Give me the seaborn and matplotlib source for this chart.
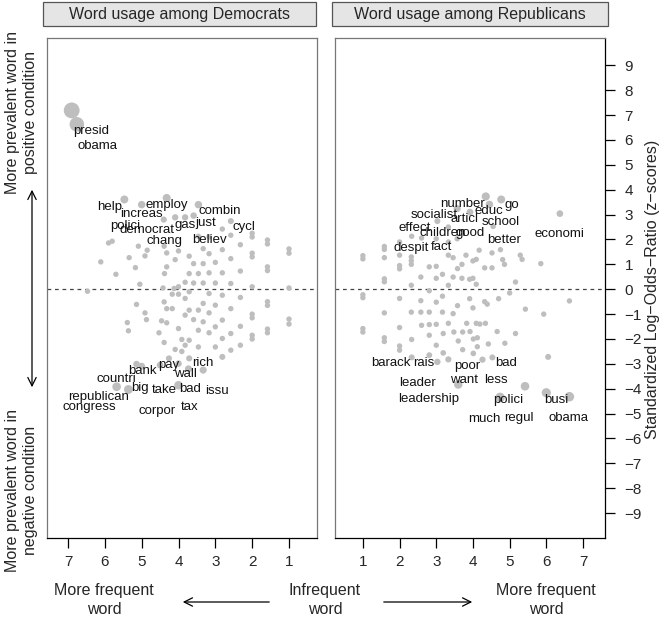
"""Word usage scatter: frequency (log2) vs standardized log-odds-ratio, two panels."""

import matplotlib
matplotlib.use("Agg")
import matplotlib.pyplot as plt
from matplotlib.patches import Rectangle
import numpy as np
import pandas as pd
import seaborn as sns

# ---- data ----
dem_freq = [6.90, 6.76,
            5.47, 5.00, 4.32, 3.46, 4.40, 4.09, 3.82, 3.59, 2.58, 2.81, 2.58, 2.00, 2.00, 1.585, 1.585, 1.00, 1.00,
            5.90, 5.80, 6.11, 5.70, 5.34, 5.09, 5.17, 4.91, 4.85, 5.05, 4.38, 4.32, 4.32, 4.39, 4.00, 4.09, 4.00,
            3.71, 3.71, 3.59, 3.46, 3.33, 3.33, 3.17, 3.17, 3.00, 3.00, 3.33, 3.59, 3.82, 3.46, 3.17, 2.81, 2.81,
            2.58, 2.58, 2.32, 2.32, 2.00, 2.00, 2.00, 1.585, 1.585, 1.00, 4.42, 4.12,
            1.00, 1.00, 1.585, 1.585, 1.585, 1.585, 2.00, 2.00, 2.00, 2.00, 2.32, 2.32, 2.32, 2.58, 2.58, 2.58,
            2.81, 2.81, 2.81, 2.81, 3.00, 3.00, 3.00, 3.17, 3.17, 3.17, 3.33, 3.33, 3.33, 3.46, 3.46, 3.46,
            3.59, 3.71, 3.71, 3.71, 3.82, 3.82, 3.82, 3.91, 4.00, 4.09, 3.91, 4.00, 4.17, 4.32, 4.39, 4.32,
            4.46, 4.53, 4.39, 4.26, 4.00, 4.50, 4.00, 3.73, 4.87, 4.91, 5.14, 5.39, 5.36, 5.14, 5.00, 5.36,
            5.68, 6.47, 4.17, 3.71]
dem_z = [7.19, 6.63,
         3.61, 3.40, 3.67, 3.40, 2.80, 2.89, 2.89, 2.96, 2.74, 2.42, 2.17, 2.10, 2.25, 1.82, 1.98, 1.45, 1.62,
         1.86, 1.93, 1.10, 0.60, 1.27, 1.73, 0.87, 1.34, 1.57, 0.20, 0.63, 1.46, 0.90, 1.73, 1.54, 1.19, 0.10,
         1.33, 0.63, 1.03, 0.63, 1.03, 1.63, 1.43, 0.66, 1.08, 0.25, 0.25, 0.25, 0.28, 2.13, 2.10, 1.59, 0.66,
         1.23, 0.23, 1.79, 0.73, 1.30, 1.45, 0.10, 0.75, 0.90, 0.05, 0.05, 0.03,
         -1.20, -1.40, -0.50, -0.65, -1.60, -1.75, -1.00, -1.15, -1.85, -2.00, -0.33, -1.49, -2.25, -0.78,
         -1.78, -2.45, -0.24, -1.24, -1.98, -2.72, -0.64, -1.51, -2.32, -0.17, -0.95, -1.75, -0.57, -1.31,
         -3.25, -0.84, -1.65, -2.32, -1.22, -0.84, -2.05, -2.78, -1.04, -2.25, -0.37, -2.02, -1.58, -2.42,
         -2.50, -0.20, -0.78, -0.78, -0.51, -1.35, -1.27, -1.75, -2.14, -2.78, -2.99, -3.05, -3.86, -3.20,
         -1.22, -0.95, -0.61, -1.34, -1.67, -3.01, -3.09, -4.03, -3.92, -0.08, -0.20, -0.10]

rep_freq = [4.35, 4.77, 4.45, 3.92, 6.37, 3.57, 3.33, 3.03, 4.55, 2.33, 2.60, 3.00, 2.00, 1.585, 1.585,
            1.585, 1.00, 1.00, 2.00, 2.32, 2.32, 2.32, 2.00, 2.00, 1.585, 1.585, 2.32, 2.58, 2.81, 3.00,
            3.33, 3.46, 3.58, 3.70, 3.81, 4.00, 4.17, 4.09, 4.32, 4.52, 4.52, 4.75, 4.81, 4.86, 5.29, 5.34,
            5.85, 5.16, 3.00, 3.17, 3.33, 3.46, 3.70, 3.91, 4.00, 4.09, 2.81, 1.00, 1.00, 2.00, 2.58, 3.00,
            3.17, 3.58, 3.91, 4.00, 4.32, 4.39, 4.70, 5.00, 5.43, 6.63, 5.93, 1.585, 2.32, 2.58, 2.81, 3.17,
            3.46, 3.33, 3.57,
            1.00, 1.00, 1.585, 1.585, 2.00, 2.00, 2.00, 2.33, 2.33, 2.60, 2.81, 2.81, 3.00, 3.00, 3.03,
            3.19, 3.19, 3.33, 3.33, 3.48, 3.60, 3.72, 3.72, 3.83, 3.92, 4.01, 4.01, 4.09, 4.12, 4.12, 4.19,
            4.26, 4.34, 4.42, 4.53, 4.66, 4.87, 5.16, 5.42, 6.05, 6.00, 3.60, 6.63, 4.74, 2.81]
rep_z = [3.73, 3.61, 3.41, 3.10, 3.04, 3.24, 2.50, 2.74, 2.53, 2.13, 2.06, 2.03, 1.90, 1.60, 1.72,
         1.27, 1.22, 1.35, 1.37, 1.00, 1.15, 1.30, 0.82, 0.95, 0.30, 0.42, 0.16, 0.49, 0.90, 0.92,
         1.37, 1.27, 0.83, 1.00, 1.37, 1.14, 1.57, 1.20, 0.86, 1.46, 0.86, 1.59, 1.19, 1.00, 1.37, 1.20,
         1.03, 0.29, 0.44, 0.60, 0.16, 0.49, 0.44, 0.40, 0.44, 0.20, -0.06, -0.22, -0.34, -0.37, -0.46, -0.52,
         -0.28, -0.66, -0.38, -0.75, -0.50, -0.60, -0.38, -0.15, -0.80, -0.47, -1.00, -0.95, -0.92, -0.92,
         -0.92, -0.92, -0.98, 1.90, 2.03,
         -1.58, -1.72, -1.95, -2.10, -1.54, -2.28, -2.45, -2.02, -2.74, -1.45, -1.85, -2.65, -1.41, -2.25,
         -2.92, -1.78, -2.56, -1.37, -2.82, -1.72, -2.08, -2.43, -1.72, -1.37, -1.70, -2.00, -2.58, -1.37,
         -1.95, -2.31, -1.40, -2.83, -1.37, -2.20, -2.74, -1.70, -2.17, -1.78, -3.90, -2.72, -4.16, -3.83,
         -4.32, -4.35, -1.42]

dem_words = ["presid", "obama", "help", "increas", "employ", "combin", "polici", "democrat", "gas",
             "just", "cycl", "chang", "believ", "pay", "rich", "bank", "wall", "countri", "big", "take",
             "bad", "issu", "republican", "congress", "corpor", "tax"]
dem_word_x = [6.38, 6.19, 5.88, 5.00, 4.33, 2.87, 5.45, 4.85, 3.82, 3.25, 2.21, 4.39, 3.17, 4.27,
              3.33, 4.97, 3.80, 5.70, 5.05, 4.39, 3.69, 2.95, 6.17, 6.41, 4.59, 3.69]
dem_word_y = [6.36, 5.76, 3.32, 3.01, 3.37, 3.14, 2.53, 2.37, 2.60, 2.68, 2.50, 1.94, 1.97, -3.05,
              -2.98, -3.28, -3.39, -3.59, -3.99, -4.06, -4.02, -4.08, -4.33, -4.75, -4.89, -4.72]

rep_words = ["number", "go", "educ", "socialist", "articl", "school", "effect", "children", "good",
             "better", "economi", "despit", "fact", "barack", "rais", "poor", "bad", "leader", "want",
             "less", "leadership", "polici", "busi", "much", "regul", "obama"]
rep_word_x = [3.72, 5.05, 4.43, 2.95, 3.78, 4.75, 2.42, 3.18, 3.93, 4.85, 6.36, 2.31, 3.14, 1.75,
              2.66, 3.85, 4.90, 2.48, 3.76, 4.63, 2.79, 4.97, 6.26, 4.30, 5.26, 6.61]
rep_word_y = [3.44, 3.37, 3.14, 2.97, 2.84, 2.70, 2.48, 2.26, 2.28, 1.97, 2.24, 1.67, 1.70, -2.96,
              -2.96, -3.09, -2.98, -3.76, -3.63, -3.63, -4.42, -4.46, -4.46, -5.23, -5.19, -5.19]

panel_titles = ["Word usage among Democrats", "Word usage among Republicans"]
freq_ticks = [1, 2, 3, 4, 5, 6, 7]
z_ticks = list(range(-9, 10))

DOT = "#BEBEBE"
FS = 11.5


def dot_area(z):
    # bigger |z| -> bigger dot; radius in px, area in pt^2 (dpi 100)
    r = np.maximum(2.7, 1.1 * np.abs(np.asarray(z)))
    return (2 * r * 0.72) ** 2


def main():
    sns.set_theme(style="white")
    plt.rcParams["font.family"] = ["Liberation Sans", "DejaVu Sans"]
    plt.rcParams["axes.unicode_minus"] = True

    dem = pd.DataFrame({"freq": dem_freq, "z": dem_z})
    rep = pd.DataFrame({"freq": rep_freq, "z": rep_z})
    for d in (dem, rep):
        d["area"] = dot_area(d["z"])
    a_min = min(dem["area"].min(), rep["area"].min())
    a_max = max(dem["area"].max(), rep["area"].max())

    W, H = 662, 620
    fig = plt.figure(figsize=(W / 100, H / 100), dpi=100)
    ax_d = fig.add_axes([47 / W, 82 / H, 270 / W, 500 / H])
    ax_r = fig.add_axes([335 / W, 82 / H, 270 / W, 500 / H])

    panels = [(ax_d, dem, dem_words, dem_word_x, dem_word_y, (7.57, 0.24)),
              (ax_r, rep, rep_words, rep_word_x, rep_word_y, (0.24, 7.6))]

    for ax, d, words, wx, wy, xlim in panels:
        ax.axhline(0, color="#444444", lw=0.9, ls=(0, (3, 3)), zorder=1)
        sns.scatterplot(data=d, x="freq", y="z", size="area", sizes=(a_min, a_max),
                        size_norm=(a_min, a_max), color=DOT, linewidth=0, legend=False,
                        ax=ax, zorder=2)
        for w, x, y in zip(words, wx, wy):
            ax.text(x, y, w, ha="center", va="center", fontsize=9.5, color="#111111", zorder=3)
        ax.set_xlim(*xlim)
        ax.set_ylim(-10.0, 10.1)
        ax.set_xticks(freq_ticks)
        ax.set_xticklabels([str(t) for t in freq_ticks])
        ax.set_xlabel("")
        ax.set_ylabel("")
        ax.tick_params(axis="x", direction="out", length=7, width=0.9, color="black",
                       labelsize=11, pad=5, bottom=True)
        for side in ("top", "left", "right"):
            ax.spines[side].set_color("#777777")
            ax.spines[side].set_linewidth(0.9)
        ax.spines["bottom"].set_color("black")
        ax.spines["bottom"].set_linewidth(0.9)

    ax_d.set_yticks([])
    ax_r.set_yticks(z_ticks)
    ax_r.set_yticklabels([f"{t}".replace("-", "\u2212") for t in z_ticks])
    ax_r.yaxis.tick_right()
    ax_r.tick_params(axis="y", direction="out", length=7, width=0.9, color="black",
                     labelsize=11, pad=7, right=True, left=False)
    ax_r.spines["right"].set_color("black")

    # strips
    for (x0, x1), title in zip([(43, 316), (332, 608)], panel_titles):
        fig.patches.append(Rectangle((x0 / W, (H - 26) / H), (x1 - x0) / W, 24 / H,
                                     transform=fig.transFigure, facecolor="#E5E5E5",
                                     edgecolor="#555555", lw=0.9))
        fig.text((x0 + x1) / 2 / W, (H - 14) / H, title, ha="center", va="center", fontsize=FS)

    # right axis title
    fig.text(652 / W, (H - 289) / H, "Standardized Log\u2212Odds\u2212Ratio (z\u2212scores)",
             rotation=90, ha="center", va="center", fontsize=FS)

    # left side guide
    fig.text(22 / W, (H - 113) / H, "More prevalent word in\npositive condition", rotation=90,
             ha="center", va="center", fontsize=FS, linespacing=1.25)
    fig.text(22 / W, (H - 490) / H, "More prevalent word in\nnegative condition", rotation=90,
             ha="center", va="center", fontsize=FS, linespacing=1.25)
    fig.add_artist(matplotlib.patches.FancyArrowPatch(
        (32 / W, (H - 187) / H), (32 / W, (H - 390) / H), transform=fig.transFigure,
        arrowstyle="<->,head_length=6,head_width=3", color="black", lw=0.9))

    # bottom guide
    for cx, txt in [(104, "More frequent\nword"), (325, "Infrequent\nword"), (546, "More frequent\nword")]:
        fig.text(cx / W, (H - 600) / H, txt, ha="center", va="center", fontsize=FS, linespacing=1.25)
    for x0, x1 in [(272, 180), (381, 475)]:
        fig.add_artist(matplotlib.patches.FancyArrowPatch(
            (x0 / W, (H - 602) / H), (x1 / W, (H - 602) / H), transform=fig.transFigure,
            arrowstyle="->,head_length=6,head_width=3", color="black", lw=0.9))

    fig.savefig("out.png", dpi=100)
    plt.close(fig)


if __name__ == "__main__":
    main()
